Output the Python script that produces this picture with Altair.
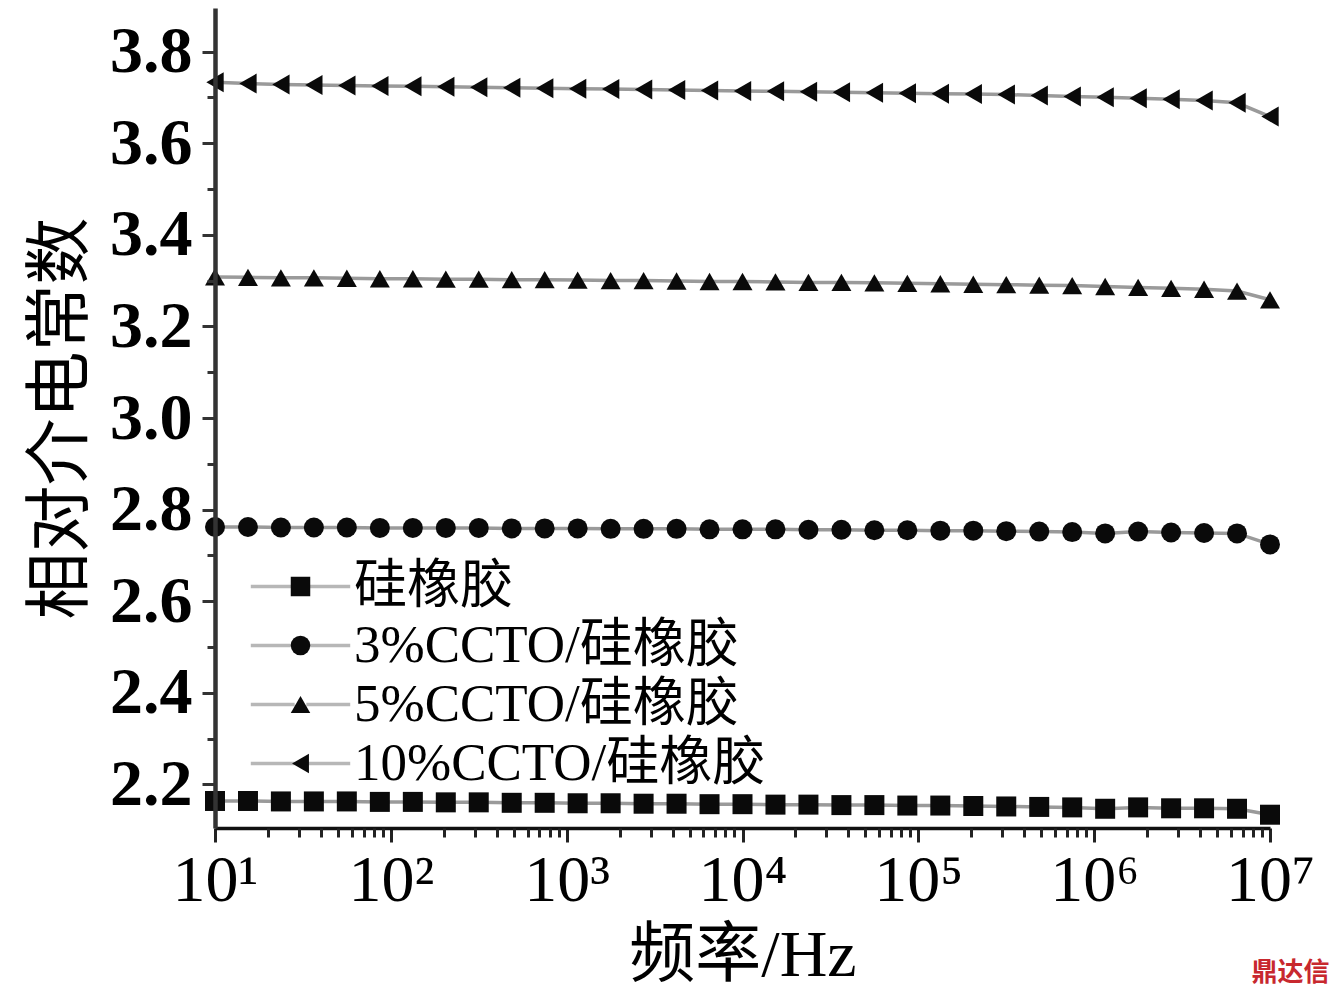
import altair as alt
import pandas as pd

# Frequencies (Hz), log spaced measurement points
freq = [10, 15.4, 23.7, 36.5, 56.2, 86.6, 133.4, 205.4, 316.2, 487.0, 749.9,
        1154.8, 1778.3, 2738.4, 4217.0, 6493.8, 10000, 15399, 23714, 36517,
        56234, 86596, 133352, 205353, 316228, 486968, 749894, 1154782,
        1778279, 2738420, 4216965, 6493816, 10000000]

names = ["硅橡胶", "3%CCTO/硅橡胶", "5%CCTO/硅橡胶", "10%CCTO/硅橡胶"]

eps_sr = [2.164, 2.164, 2.163, 2.163, 2.163, 2.162, 2.162, 2.161, 2.161, 2.160,
          2.160, 2.159, 2.159, 2.158, 2.158, 2.157, 2.157, 2.156, 2.156, 2.155,
          2.155, 2.154, 2.154, 2.153, 2.152, 2.151, 2.150, 2.147, 2.150, 2.148,
          2.148, 2.147, 2.134]
eps_3 = [2.762, 2.762, 2.761, 2.761, 2.761, 2.760, 2.760, 2.760, 2.760, 2.759,
         2.759, 2.759, 2.758, 2.758, 2.758, 2.757, 2.757, 2.757, 2.756, 2.756,
         2.755, 2.755, 2.754, 2.754, 2.753, 2.752, 2.751, 2.748, 2.752, 2.750,
         2.749, 2.748, 2.724]
eps_5 = [3.308, 3.307, 3.306, 3.306, 3.305, 3.304, 3.304, 3.303, 3.303, 3.302,
         3.302, 3.301, 3.300, 3.300, 3.299, 3.298, 3.298, 3.297, 3.296, 3.296,
         3.295, 3.294, 3.293, 3.292, 3.291, 3.290, 3.289, 3.287, 3.285, 3.283,
         3.281, 3.277, 3.258]
eps_10 = [3.733, 3.730, 3.728, 3.727, 3.726, 3.725, 3.724, 3.723, 3.722, 3.721,
          3.720, 3.719, 3.718, 3.717, 3.716, 3.715, 3.714, 3.713, 3.712, 3.711,
          3.710, 3.709, 3.708, 3.707, 3.706, 3.704, 3.702, 3.700, 3.698, 3.696,
          3.693, 3.688, 3.658]

major_x = [1e1, 1e2, 1e3, 1e4, 1e5, 1e6, 1e7]
minor_x = [m * 10 ** e for e in range(1, 7) for m in range(2, 10)]
major_y = [2.2, 2.4, 2.6, 2.8, 3.0, 3.2, 3.4, 3.6, 3.8]
minor_y = [2.1, 2.3, 2.5, 2.7, 2.9, 3.1, 3.3, 3.5, 3.7, 3.9]

rows = []
for name, vals in zip(names, [eps_sr, eps_3, eps_5, eps_10]):
    for f, v in zip(freq, vals):
        rows.append({"freq": f, "value": v, "series": name})
df = pd.DataFrame(rows)

SERIF = "Liberation Serif, Noto Sans CJK SC"
xscale = alt.Scale(type="log", domain=[10, 1e7], nice=False)
yscale = alt.Scale(domain=[2.105, 3.895], nice=False, zero=False)

sup = "['⁰','¹','²','³','⁴','⁵','⁶','⁷']"

line = alt.Chart(df).mark_line(color="#9a9a9a", strokeWidth=3.5).encode(
    x=alt.X("freq:Q", scale=xscale, axis=alt.Axis(
        values=major_x, labelExpr="'10' + " + sup + "[round(log(datum.value)/LN10)]",
        labelFont="Liberation Serif", labelFontSize=66, labelColor="black",
        labelPadding=6, tickSize=14, tickWidth=3, tickColor="#222",
        domainColor="#111", domainWidth=3.5, title="频率/Hz", titleFont=SERIF,
        titleFontSize=66, titleFontWeight="normal", titleColor="black",
        titlePadding=10, grid=False, labelFlush=False, labelOverlap=False,
        orient="bottom", zindex=1)),
    y=alt.Y("value:Q", scale=yscale, axis=alt.Axis(
        values=major_y, format=".1f", labelFont="Liberation Serif",
        labelFontWeight="bold", labelFontSize=66, labelColor="black",
        labelPadding=10, tickSize=13, tickWidth=3, tickColor="#333",
        domainColor="#333", domainWidth=4.5, title="相对介电常数",
        titleFont="Noto Sans CJK SC", titleFontSize=67, titleFontWeight="normal",
        titleColor="black", titlePadding=14, grid=False, labelOverlap=False,
        labelFlush=False, orient="left", zindex=1)),
    detail="series:N",
)

legend_common = dict(orient="none", legendX=59, legendY=552, title=None,
                     labelFont=SERIF, labelFontSize=53, labelColor="black",
                     symbolSize=380, labelOffset=27, rowPadding=5, padding=0,
                     labelLimit=0)

points = alt.Chart(df).mark_point(filled=True, color="#0a0a0a", opacity=1,
                                  size=400).encode(
    x=alt.X("freq:Q", scale=xscale, axis=alt.Axis(
        values=minor_x, labels=False, tickSize=9, tickWidth=3, tickColor="#222",
        domain=False, title=None, grid=False, orient="bottom", zindex=1)),
    y=alt.Y("value:Q", scale=yscale, axis=alt.Axis(
        values=minor_y, labels=False, tickSize=8, tickWidth=3, tickColor="#333",
        domain=False, title=None, grid=False, orient="left", zindex=1)),
    shape=alt.Shape("series:N", scale=alt.Scale(
        domain=names, range=["square", "circle", "triangle-up", "triangle-left"]),
        legend=alt.Legend(symbolStrokeWidth=0, symbolFillColor="#0a0a0a",
                          **legend_common)),
)

linepath = "M-5.1,0L-0.6,0M0.6,0L5.1,0"
legend_lines = alt.Chart(df).mark_point(size=0, filled=False, stroke="#9a9a9a",
                                        strokeWidth=3).encode(
    x=alt.X("freq:Q", scale=xscale, axis=None),
    y=alt.Y("value:Q", scale=yscale, axis=None),
    shape=alt.Shape("series:N", scale=alt.Scale(domain=names, range=[linepath] * 4),
                    legend=alt.Legend(labelOpacity=0, symbolStrokeColor="#9a9a9a",
                                      symbolStrokeWidth=3.5, **legend_common)),
)

chart = alt.layer(legend_lines, line, points).resolve_scale(
    shape="independent"
).resolve_axis(x="independent", y="independent").resolve_legend(
    shape="independent"
).properties(
    width=1055, height=820,
    autosize=alt.AutoSizeParams(type="none"),
    padding={"left": 207, "top": 0, "right": 60, "bottom": 165},
    title=alt.TitleParams("鼎达信", orient="bottom", anchor="end", color="#c8282e",
                          fontSize=26, font="Noto Sans CJK SC", offset=-28, dx=15),
).configure_view(strokeWidth=0)

chart.save("out.html", embed_options={"renderer": "svg", "actions": False})
